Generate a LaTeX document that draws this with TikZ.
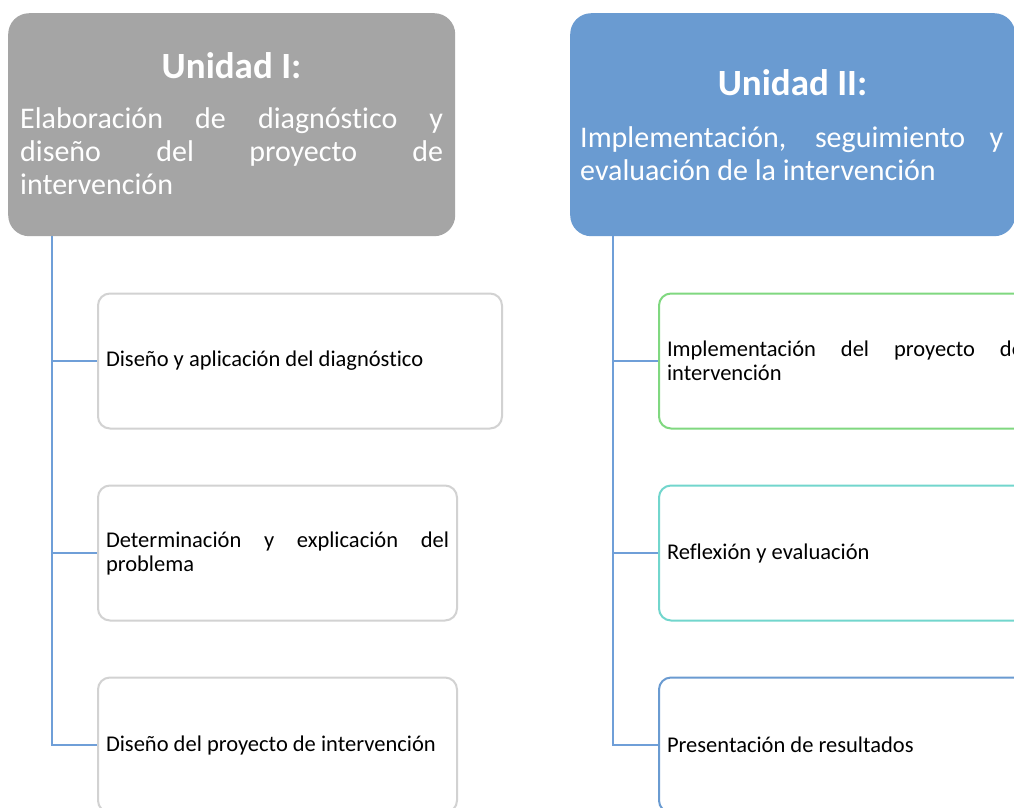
\documentclass[tikz,border=0pt]{standalone}
\usepackage{fontspec}
\setmainfont{Carlito}[Ligatures=CommonOff]
\definecolor{hdrgray}{HTML}{A5A5A5}
\definecolor{hdrblue}{HTML}{6A9BD1}
\definecolor{connblue}{HTML}{6F9FD8}
\definecolor{boxgray}{HTML}{D2D2D2}
\definecolor{boxgreen}{HTML}{80D880}
\definecolor{boxteal}{HTML}{72D6CD}
\definecolor{boxblue}{HTML}{6A9BD1}
\tikzset{
  hdrbox/.style={rectangle, rounded corners=21pt, draw=none, anchor=north west, inner sep=0pt},
  hdrtitle/.style={anchor=base, text=white, font=\fontsize{37}{40}\selectfont\bfseries, inner sep=0pt},
  hdrsub/.style={anchor=base west, text=white, font=\fontsize{30}{33}\selectfont, text width=423pt, align=justify, inner sep=0pt},
  itembox/.style={rectangle, rounded corners=12pt, line width=2pt, fill=white, anchor=west, minimum height=135pt, inner xsep=8pt, inner ysep=0pt, align=justify, font=\fontsize{22.5}{24}\selectfont},
  conn/.style={draw=connblue, line width=2pt}
}
\begin{document}
\begin{tikzpicture}[x=1pt, y=-1pt]
\useasboundingbox (0,0) rectangle (1014,807);
\clip (0,0) rectangle (1014,807);
\fill[white] (0,0) rectangle (1014,807);

% Headers
\node[hdrbox, fill=hdrgray, minimum width=447pt, minimum height=223pt] (hL) at (8,13) {};
\node[hdrbox, fill=hdrblue, minimum width=445pt, minimum height=223pt] (hR) at (570,13) {};

\node[hdrtitle] (tL) at (231.5,78) {Unidad I:};
\node[hdrsub] (sL) at (20,128) {Elaboración de diagnóstico y\linebreak diseño del proyecto de\linebreak intervención};

\node[hdrtitle] (tR) at (792.5,95) {Unidad II:};
\node[hdrsub] (sR) at (580,147) {Implementación, seguimiento y\linebreak evaluación de la intervención};

% Left items
\node[itembox, draw=boxgray, text width=388pt] (bL1) at (97,361) {Diseño y aplicación del diagnóstico};
\node[itembox, draw=boxgray, text width=343pt] (bL2) at (97,553) {Determinación y explicación del\linebreak problema};
\node[itembox, draw=boxgray, text width=343pt] (bL3) at (97,745) {Diseño del proyecto de intervención};

% Right items
\node[itembox, draw=boxgreen, text width=356pt] (bR1) at (658,361) {Implementación del proyecto de\linebreak intervención};
\node[itembox, draw=boxteal, text width=356pt] (bR2) at (658,553) {Reflexión y evaluación};
\node[itembox, draw=boxblue, text width=356pt] (bR3) at (658,745) {Presentación de resultados};

% Connectors
\coordinate (cL) at ([xshift=44pt]hL.south west);
\coordinate (cR) at ([xshift=43pt]hR.south west);
\draw[conn] (cL) |- (bL3.west);
\draw[conn] (cL |- bL1.west) -- (bL1.west);
\draw[conn] (cL |- bL2.west) -- (bL2.west);
\draw[conn] (cR) |- (bR3.west);
\draw[conn] (cR |- bR1.west) -- (bR1.west);
\draw[conn] (cR |- bR2.west) -- (bR2.west);
\end{tikzpicture}
\end{document}
